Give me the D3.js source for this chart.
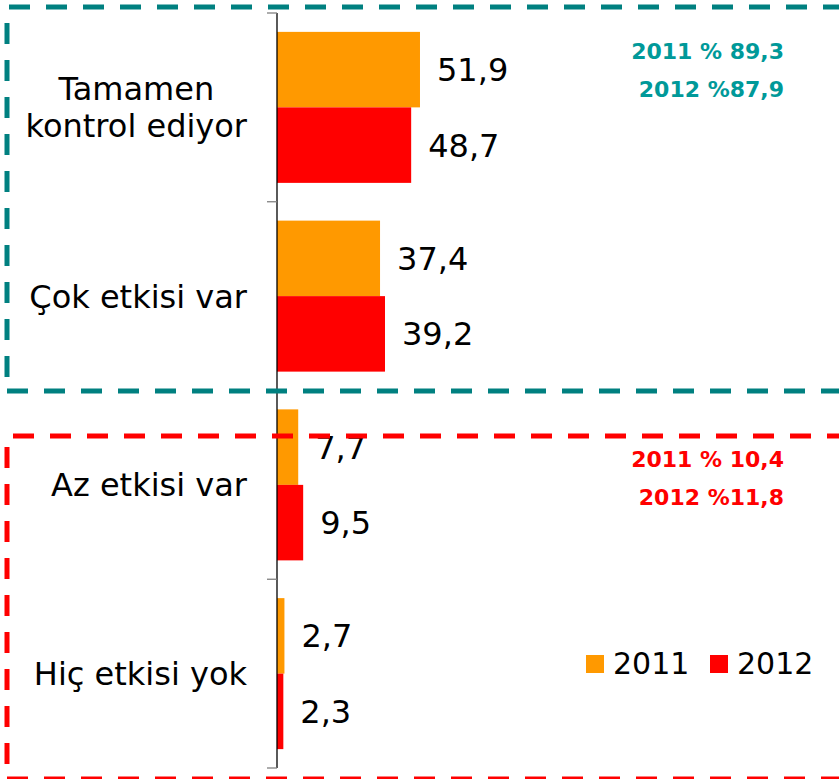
<html>
<head>
  <meta charset="utf-8">
  <script src="https://d3js.org/d3.v7.min.js"></script>
  <style>
    body { margin: 0; background: #fff; }
    text { font-family: "DejaVu Sans", Verdana, sans-serif; }
  </style>
</head>
<body>
<script type="text/javascript">
  var categories = [["Tamamen", "kontrol ediyor"], ["Çok etkisi var"], ["Az etkisi var"], ["Hiç etkisi yok"]];
  var seriesNames = ["2011", "2012"];
  var values2011 = [51.9, 37.4, 7.7, 2.7];
  var values2012 = [48.7, 39.2, 9.5, 2.3];
  var topGroupNotes = ["2011 % 89,3", "2012 %87,9"];
  var bottomGroupNotes = ["2011 % 10,4", "2012 %11,8"];

  var colors = { "2011": "#FF9900", "2012": "#FF0000" };
  var width = 839, height = 779;

  var svg = d3.select("body").append("svg")
      .attr("width", width)
      .attr("height", height);

  var catKeys = categories.map(function(c) { return c.join(" "); });

  var x = d3.scaleLinear().domain([0, 60]).range([277, 277 + 60 * 2.755]);
  var y = d3.scaleBand().domain(catKeys).range([13, 768])
      .paddingInner(0.2).paddingOuter(0.1);
  var ySub = d3.scaleBand().domain(seriesNames).range([0, y.bandwidth()]);

  var locale = d3.formatLocale({ decimal: ",", thousands: ".", grouping: [3], currency: ["", ""] });
  var fmt = locale.format(".1f");

  var rows = catKeys.map(function(k, i) {
    return { key: k, lines: categories[i], vals: [
      { s: "2011", v: values2011[i] }, { s: "2012", v: values2012[i] }] };
  });

  // bars
  var g = svg.selectAll("g.cat").data(rows).enter().append("g")
      .attr("class", "cat")
      .attr("transform", function(d) { return "translate(0," + y(d.key) + ")"; });

  g.selectAll("rect").data(function(d) { return d.vals; }).enter().append("rect")
      .attr("x", x(0))
      .attr("y", function(d) { return ySub(d.s); })
      .attr("width", function(d) { return x(d.v) - x(0); })
      .attr("height", ySub.bandwidth())
      .attr("fill", function(d) { return colors[d.s]; });

  g.selectAll("text.val").data(function(d) { return d.vals; }).enter().append("text")
      .attr("class", "val")
      .attr("x", function(d) { return x(d.v) + 17; })
      .attr("y", function(d) { return ySub(d.s) + ySub.bandwidth() / 2; })
      .attr("dy", "0.36em")
      .style("font-size", "32px")
      .style("fill", "#000")
      .text(function(d) { return fmt(d.v); });

  // axis line and boundary ticks
  var r = y.range();
  svg.append("line")
      .attr("x1", x(0)).attr("x2", x(0))
      .attr("y1", r[0]).attr("y2", r[1])
      .style("stroke", "#000").style("stroke-width", 1.3);
  d3.range(catKeys.length + 1).forEach(function(i) {
    var yy = r[0] + i * y.step();
    svg.append("line")
        .attr("x1", x(0) - 10).attr("x2", x(0))
        .attr("y1", yy).attr("y2", yy)
        .style("stroke", "#808080").style("stroke-width", 1.3);
  });

  // category labels
  rows.forEach(function(d) {
    var cy = y(d.key) + y.bandwidth() / 2;
    var t = svg.append("text")
        .style("font-size", "32px")
        .style("fill", "#000")
        .attr("text-anchor", "middle");
    var n = d.lines.length;
    d.lines.forEach(function(line, j) {
      t.append("tspan").text(line)
          .attr("y", cy + (j - (n - 1) / 2) * 37)
          .attr("dy", "0.36em");
    });
    var maxW = 0;
    t.selectAll("tspan").each(function() { maxW = Math.max(maxW, this.getComputedTextLength()); });
    t.selectAll("tspan").attr("x", 247 - maxW / 2);
  });

  // dashed group frames
  function frame(color, x0, y0, y1, topStart, leftStart) {
    var s = { stroke: color, "stroke-width": 5, "stroke-dasharray": "21,16" };
    [[topStart, y0, width + 20, y0], [x0, leftStart, x0, y1], [x0, y1, width + 20, y1]].forEach(function(p) {
      var l = svg.append("line").attr("x1", p[0]).attr("y1", p[1]).attr("x2", p[2]).attr("y2", p[3]);
      Object.keys(s).forEach(function(k) { l.style(k, s[k]); });
    });
  }
  frame("#008080", 7, 7, 391, 9, 23);
  frame("#FF0000", 7, 436, 779, 13, 447);

  // group notes
  function notes(list, color, y0) {
    list.forEach(function(txt, i) {
      svg.append("text")
          .attr("x", 784).attr("y", y0 + i * 38)
          .attr("text-anchor", "end")
          .style("font-size", "22px").style("font-weight", "bold")
          .style("fill", color)
          .text(txt);
    });
  }
  notes(topGroupNotes, "#009999", 59);
  notes(bottomGroupNotes, "#FF0000", 467);

  // legend
  var legend = svg.selectAll("g.legend").data(seriesNames).enter().append("g")
      .attr("class", "legend")
      .attr("transform", function(d, i) { return "translate(" + (586 + i * 124) + ",655)"; });
  legend.append("rect").attr("width", 18).attr("height", 18)
      .attr("fill", function(d) { return colors[d]; });
  legend.append("text").attr("x", 27).attr("y", 19)
      .style("font-size", "30px").style("fill", "#000")
      .text(function(d) { return d; });
</script>
</body>
</html>
